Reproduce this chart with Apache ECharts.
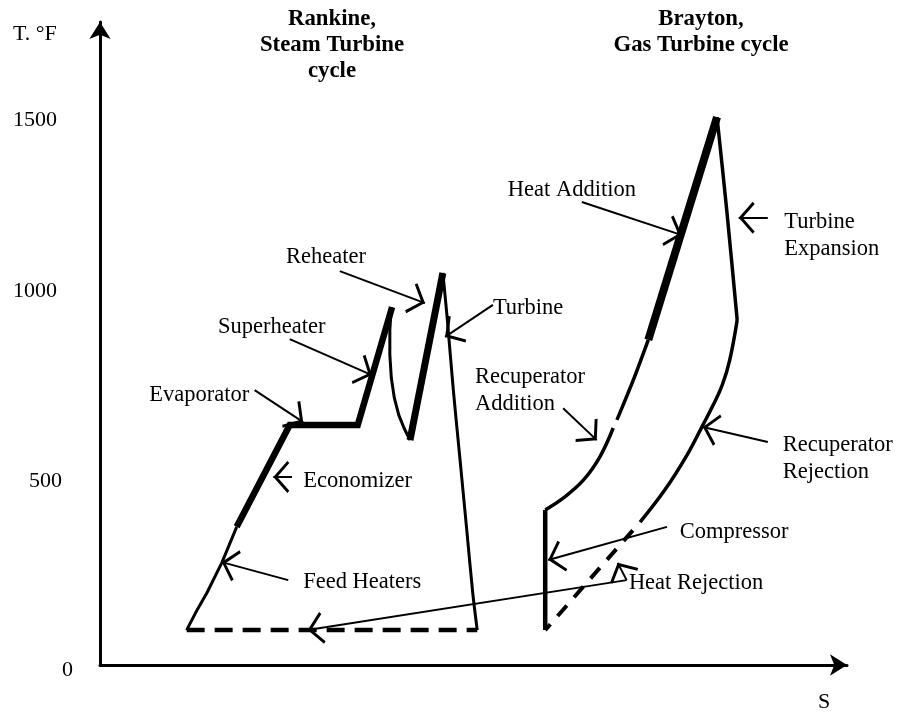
<!DOCTYPE html>
<html><head><meta charset="utf-8">
<script src="https://cdn.jsdelivr.net/npm/echarts@6/dist/echarts.min.js"></script>
<style>html,body{margin:0;padding:0;background:#fff}#c{width:898px;height:712px}</style>
</head><body><div id="c"></div>
<script>
// S in arbitrary entropy units, T in °F
const yTicks = [0, 500, 1000, 1500];

// Rankine (steam turbine) cycle
const feedHeaters = [[1.16,95],[1.30,150],[1.43,196],[1.63,278],[1.83,376]];
const economizer = [[1.83,376],[2.54,653]];
const evaporator = [[2.54,653],[3.45,653]];
const superheater = [[3.45,653],[3.91,974]];
const hpTurbine = [[3.90,974],[3.88,912],[3.88,844],[3.90,781],[3.94,727],[4.00,680],[4.07,645],[4.15,612]];
const reheater = [[4.15,612],[4.59,1067]];
const lpTurbine = [[4.59,1067],[4.65,939],[4.73,748],[4.82,558],[4.91,367],[4.99,196],[5.05,95]];
const condenser = [[1.16,95],[5.05,95]];

// Brayton (gas turbine) cycle
const compressor = [[5.96,95],[5.96,422]];
const recupAdditionA = [[5.96,422],[6.20,454],[6.47,503],[6.69,566],[6.87,645]];
const recupAdditionB = [[6.92,667],[7.14,776],[7.34,885]];
const heatAddition = [[7.34,885],[8.26,1491]];
const turbineExpansion = [[8.26,1491],[8.39,1238],[8.53,939]];
const recupRejection = [[8.53,939],[8.43,830],[8.33,762],[8.21,708],[8.07,653],[7.86,572],[7.56,476],[7.23,389]];
const heatRejection = [[7.23,389],[5.96,95]];

// annotation arrows: [from, to]
const arrows = [
  [[6.45,1260],[7.79,1170]],
  [[8.94,1217],[8.55,1217]],
  [[3.21,1072],[4.35,985]],
  [[2.54,887],[3.64,789]],
  [[2.07,748],[2.72,661]],
  [[5.26,980],[4.62,893]],
  [[2.57,512],[2.32,512]],
  [[2.52,231],[1.63,280]],
  [[6.20,699],[6.65,612]],
  [[8.94,607],[8.07,648]],
  [[7.59,376],[6.00,286]],
  [[7.05,231],[2.78,95]],
  [[7.05,231],[6.93,278]]
];

// annotation texts: [text, S, T]
const labels = [
  ['Heat Addition', 5.46, 1293],
  ['Turbine\nExpansion', 9.16, 1168],
  ['Reheater', 2.49, 1110],
  ['Superheater', 1.58, 920],
  ['Evaporator', 0.66, 735],
  ['Turbine', 5.26, 972],
  ['Economizer', 2.72, 501],
  ['Feed Heaters', 2.72, 226],
  ['Recuperator\nAddition', 5.02, 747],
  ['Recuperator\nRejection', 9.14, 563],
  ['Compressor', 7.76, 362],
  ['Heat Rejection', 7.08, 223]
];

const titles = ['Rankine,\nSteam Turbine\ncycle', 'Brayton,\nGas Turbine cycle'];
const yName = 'T. °F';
const xName = 'S';

const FONT = 'Liberation Serif, Times New Roman, serif';
const chevron = 'path://M10,0.6 M10,12 L20,22 L18.6,23.4 L10,14.8 L1.4,23.4 L0,22 Z';

function ln(data, width, extra) {
  extra = extra || {};
  return {
    type: 'line', data: data, symbol: 'none', showSymbol: false, silent: true,
    lineStyle: Object.assign({ color: '#000', width: width, cap: 'butt', join: 'round' }, extra.lineStyle || {}),
    smooth: extra.smooth || false, z: 3
  };
}

const chart = echarts.init(document.getElementById('c'), null, { renderer: 'canvas' });
chart.setOption({
  animation: false,
  backgroundColor: '#fff',
  grid: { left: 100, right: 51, top: 22, bottom: 47, containLabel: false },
  xAxis: {
    type: 'value', min: 0, max: 10,
    axisLine: { show: true, onZero: false, symbol: ['none', 'arrow'], symbolSize: [16, 17], lineStyle: { color: '#000', width: 3 } },
    axisTick: { show: false }, axisLabel: { show: false }, splitLine: { show: false }
  },
  yAxis: {
    type: 'value', min: 0, max: 1750, interval: 500,
    axisLine: { show: true, onZero: false, symbol: ['none', 'arrow'], symbolSize: [16, 17], lineStyle: { color: '#000', width: 3 } },
    axisTick: { show: false }, splitLine: { show: false },
    axisLabel: {
      show: true, showMaxLabel: false, margin: 27, color: '#000', fontFamily: FONT, fontSize: 22,
      formatter: function (v) {
        if (yTicks.indexOf(v) < 0) return '';
        if (v === 0) return '{z|0}';
        if (v === 500) return '{f|500}';
        if (v === 1000) return '{k|1000}';
        return '{m|' + v + '}';
      },
      rich: {
        z: { fontFamily: FONT, fontSize: 22, color: '#000', padding: [10, 0, 0, 0] },
        f: { fontFamily: FONT, fontSize: 22, color: '#000', padding: [0, 11, 0, 0] },
        k: { fontFamily: FONT, fontSize: 22, color: '#000', padding: [0, 16, 12, 0] },
        m: { fontFamily: FONT, fontSize: 22, color: '#000', padding: [12, 16, 0, 0] }
      }
    }
  },
  graphic: [
    { type: 'text', x: 332, y: 45, silent: true, style: { text: titles[0], fill: '#000', font: 'bold 22.8px ' + FONT, lineHeight: 26, align: 'center', verticalAlign: 'middle' } },
    { type: 'text', x: 701, y: 32, silent: true, style: { text: titles[1], fill: '#000', font: 'bold 22.8px ' + FONT, lineHeight: 26, align: 'center', verticalAlign: 'middle' } },
    { type: 'text', x: 13, y: 34, silent: true, style: { text: yName, fill: '#000', font: '22px ' + FONT, align: 'left', verticalAlign: 'middle' } },
    { type: 'text', x: 824, y: 702, silent: true, style: { text: xName, fill: '#000', font: '22px ' + FONT, align: 'center', verticalAlign: 'middle' } }
  ],
  series: [
    ln(feedHeaters, 3),
    ln(economizer.concat(evaporator.slice(1), superheater.slice(1)), 6.5, { lineStyle: { join: 'miter' } }),
    ln(hpTurbine, 3),
    ln(reheater, 7),
    ln(lpTurbine, 3, { smooth: 0.3 }),
    ln(condenser, 4.5, { lineStyle: { type: [18, 10] } }),
    ln(compressor, 4.5),
    ln(recupAdditionA, 3.5, { smooth: 0.4 }),
    ln(recupAdditionB, 3.5, { smooth: 0.3 }),
    ln(heatAddition, 8),
    ln(turbineExpansion, 3.5, { smooth: 0.3 }),
    ln(recupRejection, 3.5, { smooth: 0.4 }),
    ln(heatRejection, 4, { lineStyle: { type: [14, 11], dashOffset: 14 } }),
    {
      type: 'lines', coordinateSystem: 'cartesian2d', silent: true, z: 4,
      symbol: ['none', chevron], symbolSize: [20, 32],
      lineStyle: { color: '#000', width: 2, opacity: 1, curveness: 0 },
      data: arrows.map(function (a) { return { coords: a }; })
    },
    {
      type: 'scatter', silent: true, symbolSize: 0, z: 5,
      itemStyle: { opacity: 1, color: '#000' },
      data: labels.map(function (l) { return { name: l[0], value: [l[1], l[2]] }; }),
      label: {
        show: true, position: 'right', distance: 0, formatter: '{b}', color: '#000', opacity: 1,
        fontFamily: FONT, fontSize: 22.5, lineHeight: 27, align: 'left', verticalAlign: 'middle'
      }
    }
  ]
});
</script>
</body></html>
